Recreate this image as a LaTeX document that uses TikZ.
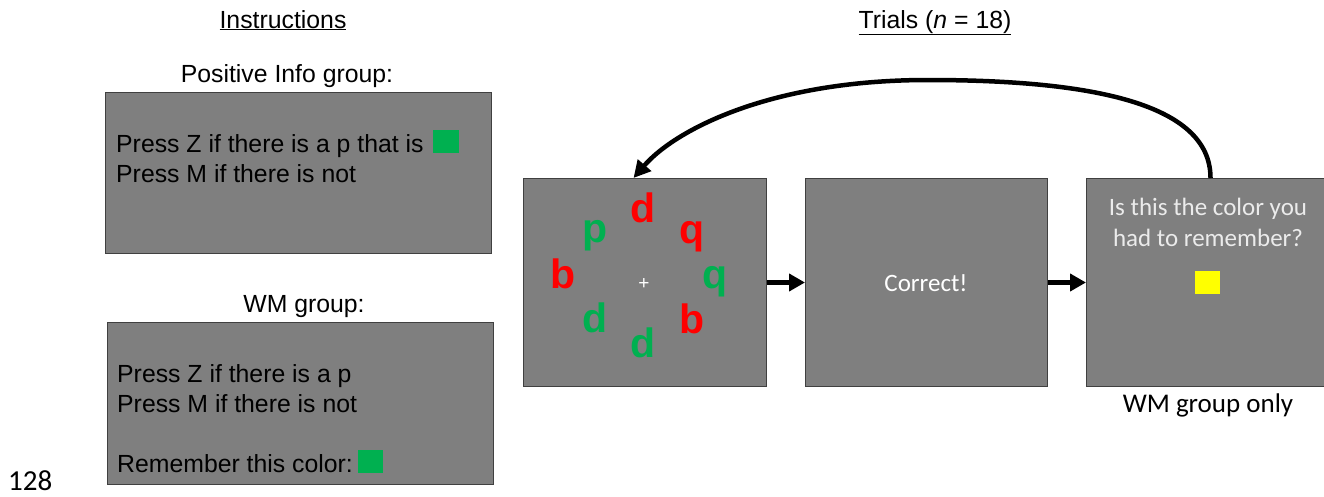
\documentclass[tikz,border=0pt]{standalone}
\usepackage{fontspec}
\setmainfont{Liberation Sans}
\newfontfamily\calibri{Carlito}
\usetikzlibrary{arrows.meta}
\definecolor{scr}{RGB}{127,127,127}
\definecolor{edgec}{RGB}{64,64,64}
\definecolor{tgreen}{RGB}{0,176,80}
\definecolor{tred}{RGB}{255,0,0}
\definecolor{tyellow}{RGB}{255,255,0}
\begin{document}
\begin{tikzpicture}[x=1pt,y=-1pt,
  screen/.style={draw=edgec,fill=scr,line width=1pt,inner sep=0pt,anchor=north west},
  txt/.style={inner sep=0pt,anchor=base west,font=\fontsize{24.8}{28}\selectfont},
  ctxt/.style={inner sep=0pt,anchor=base,font=\fontsize{24.8}{28}\selectfont},
  cal/.style={inner sep=0pt,anchor=base,font=\calibri\fontsize{25}{28}\selectfont},
  letter/.style={inner sep=0pt,anchor=base,font=\fontsize{41}{44}\selectfont\bfseries},
  swatch/.style={inner sep=0pt,draw=none,minimum width=26pt,minimum height=23pt},
  flow/.style={line width=5pt,-{Triangle[length=16pt,width=17pt]}},
  loopflow/.style={line width=4.5pt,-{Triangle[length=17pt,width=17pt]}}
]
\useasboundingbox (0,0) rectangle (1324,496);

% titles
\node[ctxt] (tins) at (283,28) {\underline{Instructions}};
\node[ctxt] (ttri) at (935,28) {\underline{Trials (\textit{n} = 18)}};

% instructions
\node[ctxt] (gpos) at (287,82) {Positive Info group:};
\node[screen,minimum width=386pt,minimum height=161pt] (ins1) at (105,92) {};
\node[txt] (p1a) at (116,152) {Press Z if there is a p that is};
\node[swatch,fill=tgreen] (sw1) at (446,141.5) {};
\node[txt] (p1b) at (116,182) {Press M if there is not};

\node[ctxt] (gwm) at (304,312) {WM group:};
\node[screen,minimum width=386pt,minimum height=162pt] (ins2) at (107,322) {};
\node[txt] (p2a) at (117,382) {Press Z if there is a p};
\node[txt] (p2b) at (117,412) {Press M if there is not};
\node[txt] (p2c) at (117,472) {Remember this color:};
\node[swatch,fill=tgreen,minimum width=25pt] (sw2) at (370.5,461.5) {};

\node[inner sep=0pt,anchor=base west,font=\calibri\fontsize{29}{30}\selectfont] (pg) at (8,490) {128};

% trial screens
\node[screen,minimum width=243pt,minimum height=208pt] (s1) at (523,178) {};
\node[screen,minimum width=242pt,minimum height=208pt] (s2) at (805,178) {};
\node[screen,minimum width=240pt,minimum height=208pt] (s3) at (1086,178) {};

% search display
\node[letter,text=tred] (l1) at (643,222) {d};
\node[letter,text=tgreen] (l2) at (595,242) {p};
\node[letter,text=tred] (l3) at (692,243) {q};
\node[letter,text=tred] (l4) at (563,288) {b};
\node[letter,text=tgreen] (l5) at (715,288) {q};
\node[letter,text=tgreen] (l6) at (595,332) {d};
\node[letter,text=tred] (l7) at (692,333) {b};
\node[letter,text=tgreen] (l8) at (643,357) {d};
\node[inner sep=0pt,text=white,font=\fontsize{19}{20}\selectfont] (fix) at (644,284) {+};

% feedback
\node[cal,text=white] (corr) at (926,291) {Correct!};

% color probe
\node[cal,text=white!92!black] (q1) at (1208,215) {Is this the color you};
\node[cal,text=white!92!black] (q2) at (1208,246) {had to remember?};
\node[swatch,fill=tyellow,minimum width=25pt] (sw3) at (1207.5,282.5) {};
\node[inner sep=0pt,anchor=base,font=\calibri\fontsize{27}{30}\selectfont] (wmonly) at (1208,412) {WM group only};

% connectors
\draw[flow] (s1.east) -- (s2.west);
\draw[flow] (s2.east) -- (s3.west);
\draw[loopflow] ([xshift=4pt]s3.north) .. controls +(0,-75) and (1090,80) .. (928,80)
   .. controls (770,80) and (675,130) .. ([xshift=-11.5pt]s1.north);
\end{tikzpicture}
\end{document}
